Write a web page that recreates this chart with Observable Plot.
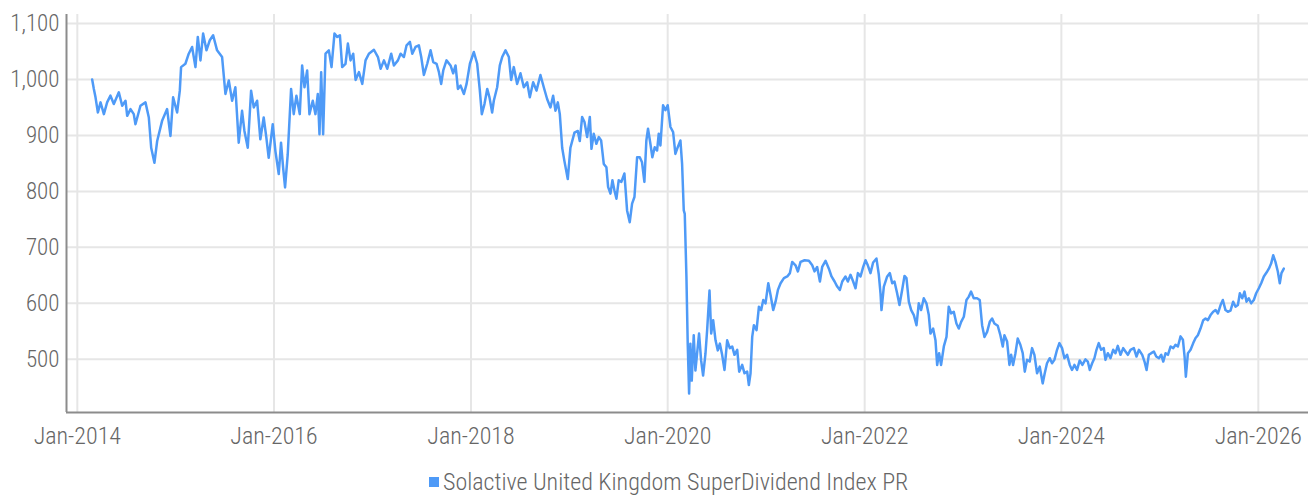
<!DOCTYPE html>
<html>
<head>
<meta charset="utf-8">
<script src="https://cdn.jsdelivr.net/npm/d3@7"></script>
<script src="https://cdn.jsdelivr.net/npm/@observablehq/plot@0.6"></script>
<style>
  html, body { margin: 0; padding: 0; background: #fff; }
  body { width: 1308px; height: 498px; overflow: hidden; font-family: 'Roboto Condensed', 'DejaVu Sans Condensed', sans-serif; font-weight: 300; }
  #legend { position: relative; height: 43px; }
  #legend .row { position: absolute; left: 429px; top: 15px; height: 24px; display: flex; align-items: center; font-size: 24px; color: #666; white-space: nowrap; }
  #legend .sw { width: 10px; height: 10px; background: #4e9af7; margin-right: 4px; }
  svg text { font-weight: 300; }
</style>
</head>
<body>
<div id="chart"></div>
<div id="legend"><div class="row"><div class="sw"></div><span id="legendText"></span></div></div>
<script>
const seriesName = "Solactive United Kingdom SuperDividend Index PR";

// Dates as decimal years
const years = [
2014.151,2014.168,2014.185,2014.209,2014.236,2014.270,2014.303,2014.337,2014.371,2014.422,2014.456,2014.490,2014.507,2014.541,2014.574,2014.591,2014.642,2014.693,2014.727,2014.751,2014.784,2014.812,2014.862,2014.913,2014.947,2014.974,
2015.015,2015.042,2015.055,2015.099,2015.133,2015.167,2015.201,2015.225,2015.252,2015.279,2015.313,2015.347,2015.381,2015.421,2015.472,2015.506,2015.540,2015.574,2015.607,2015.641,2015.675,2015.699,2015.733,2015.767,2015.794,2015.828,2015.861,2015.895,2015.922,2015.946,2015.987,
2016.014,2016.048,2016.071,2016.092,2016.112,2016.139,2016.173,2016.200,2016.227,2016.261,2016.285,2016.309,2016.336,2016.359,2016.393,2016.420,2016.444,2016.461,2016.478,2016.498,
2016.522,2016.556,2016.583,2016.613,2016.640,2016.668,2016.691,2016.725,2016.749,2016.776,2016.803,2016.827,2016.861,2016.895,2016.928,2016.962,
2017.013,2017.054,2017.081,2017.115,2017.149,2017.189,2017.216,2017.257,2017.284,2017.318,2017.345,2017.379,2017.403,2017.436,2017.470,2017.494,2017.521,2017.555,2017.589,2017.616,2017.650,2017.674,2017.697,2017.718,2017.751,2017.792,2017.819,2017.843,2017.867,2017.894,2017.928,2017.955,2017.989,
2018.029,2018.063,2018.090,2018.110,2018.137,2018.165,2018.188,2018.215,2018.232,2018.266,2018.293,2018.317,2018.351,2018.385,2018.408,2018.435,2018.469,2018.503,2018.537,2018.571,2018.598,2018.632,2018.666,2018.706,2018.740,2018.774,2018.808,2018.835,2018.859,2018.883,2018.903,2018.927,2018.950,2018.984,
2019.011,2019.052,2019.086,2019.106,2019.130,2019.154,2019.181,2019.208,2019.225,2019.248,2019.275,2019.299,2019.323,2019.350,2019.377,2019.394,2019.418,2019.438,2019.458,2019.479,2019.502,2019.529,2019.560,2019.587,2019.614,2019.638,2019.662,2019.689,2019.716,2019.739,2019.763,2019.783,2019.800,2019.824,2019.844,2019.868,2019.892,2019.909,2019.926,2019.953,2019.977,
2020.000,2020.028,2020.055,2020.078,2020.102,2020.129,2020.146,2020.163,2020.173,2020.190,2020.203,2020.217,2020.230,2020.244,2020.264,2020.281,2020.298,2020.318,2020.339,2020.359,2020.383,2020.400,2020.424,2020.441,2020.461,2020.485,2020.508,2020.529,
2020.552,2020.576,2020.603,2020.630,2020.654,2020.677,2020.705,2020.725,2020.755,2020.779,2020.806,2020.823,2020.840,2020.857,2020.874,2020.901,2020.925,2020.948,2020.969,2020.992,
2021.020,2021.043,2021.070,2021.094,2021.118,2021.145,2021.179,2021.213,2021.240,2021.263,2021.297,2021.321,2021.348,2021.389,2021.433,2021.467,2021.490,2021.517,2021.545,2021.568,2021.602,2021.636,2021.663,2021.694,2021.721,2021.748,2021.772,2021.805,2021.829,2021.856,2021.883,2021.907,2021.931,2021.958,2021.985,
2022.009,2022.032,2022.059,2022.086,2022.120,2022.144,2022.161,2022.171,2022.195,2022.229,2022.256,2022.280,2022.303,2022.330,2022.354,2022.381,2022.405,2022.425,2022.449,2022.473,2022.500,2022.527,2022.550,2022.574,2022.601,2022.628,2022.652,2022.669,2022.696,2022.720,2022.737,2022.757,2022.777,2022.805,2022.832,2022.855,2022.879,2022.906,2022.933,2022.957,2022.981,
2023.008,2023.035,2023.059,2023.082,2023.109,2023.143,2023.170,2023.194,2023.218,2023.245,2023.272,2023.296,2023.319,2023.353,2023.380,
2023.404,2023.421,2023.448,2023.472,2023.489,2023.509,2023.533,2023.556,2023.583,2023.607,2023.628,2023.651,2023.678,2023.702,2023.726,2023.753,2023.780,2023.810,2023.831,2023.854,2023.882,2023.905,2023.929,2023.956,2023.980,
2024.007,2024.031,2024.058,2024.085,2024.108,2024.132,2024.159,2024.186,2024.213,2024.244,2024.268,2024.288,2024.312,2024.335,2024.356,2024.379,2024.403,2024.430,2024.447,2024.471,2024.498,2024.525,2024.549,2024.572,2024.600,2024.627,2024.650,2024.674,2024.701,2024.735,2024.762,2024.786,2024.820,2024.843,2024.864,2024.887,2024.911,2024.938,2024.962,2024.989,
2025.013,2025.033,2025.057,2025.081,2025.108,2025.135,2025.158,2025.182,2025.209,2025.233,2025.250,2025.263,2025.284,2025.311,2025.338,2025.362,2025.385,2025.412,2025.440,2025.463,2025.487,2025.514,2025.541,2025.565,2025.589,2025.616,2025.639,2025.666,2025.690,2025.717,2025.744,2025.768,2025.792,2025.812,2025.836,2025.859,2025.880,2025.903,2025.927,2025.954,2025.978,
2026.005,2026.029,2026.056,2026.083,2026.107,2026.130,2026.151,2026.174,2026.198,2026.218,2026.235,2026.259
];

// Index levels
const values = [
1000,983,968,941,959,938,959,971,956,977,953,962,935,947,938,920,953,959,932,878,851,890,926,947,899,968,
941,980,1022,1028,1046,1058,1022,1076,1034,1082,1052,1070,1079,1052,1040,974,998,962,986,887,944,908,878,980,950,962,893,932,896,860,920,
872,831,887,843,807,866,983,938,971,938,1025,986,1016,938,962,938,974,902,1013,902,
1046,1052,1022,1082,1076,1079,1022,1028,1064,1034,1046,999,1013,992,1034,1046,
1053,1040,1019,1034,1019,1046,1025,1034,1046,1040,1061,1067,1046,1058,1061,1040,1008,1028,1052,1031,1028,1013,992,1016,1034,1025,1011,1025,983,989,974,992,1028,
1049,1028,980,938,956,983,968,941,962,986,1025,1040,1052,1040,999,1022,992,1011,986,995,968,995,980,1008,986,965,950,971,944,959,938,878,854,822,
878,905,908,890,933,924,897,933,876,903,885,897,891,849,843,808,796,820,802,787,820,817,832,766,745,778,790,861,861,852,817,891,912,885,861,879,873,903,882,954,945,
954,915,906,867,879,891,849,766,760,647,528,439,528,462,543,480,510,546,498,471,510,552,623,546,570,534,516,528,
508,481,534,520,523,508,517,478,490,475,478,454,475,540,561,552,594,588,606,600,
636,615,588,603,624,636,645,648,654,674,668,657,674,677,676,668,657,665,639,665,676,662,648,639,630,624,639,648,639,651,639,627,654,648,665,
677,668,654,673,680,651,618,588,630,648,654,636,639,618,597,624,649,645,603,588,579,561,600,588,609,600,579,546,555,534,490,511,490,523,540,594,582,585,564,555,567,
576,606,612,621,609,609,606,561,540,549,567,573,564,560,543,
523,543,532,490,508,490,511,537,526,511,478,499,496,520,508,475,487,457,475,493,502,493,499,517,529,
520,502,508,490,481,490,481,498,490,500,496,481,493,502,517,529,517,520,499,511,502,517,511,524,508,520,514,508,517,520,505,517,508,496,481,508,511,514,505,502,
508,496,511,508,523,520,526,523,541,535,505,469,511,517,529,538,543,555,570,573,570,579,585,588,582,597,606,588,585,587,603,594,597,618,609,621,603,609,600,606,618,
627,636,648,655,662,671,686,674,657,636,654,662
];

const yTicks = [500, 600, 700, 800, 900, 1000, 1100];
const xTickYears = [2014, 2016, 2018, 2020, 2022, 2024, 2026];
const xDomainYears = [2013.89, 2026.51];
const yDomain = [405, 1116];

function fromDecimalYear(t) {
  const y = Math.floor(t);
  const a = Date.UTC(y, 0, 1), b = Date.UTC(y + 1, 0, 1);
  return new Date(a + (t - y) * (b - a));
}

const data = years.map((t, i) => ({date: fromDecimalYear(t), value: values[i]}));
const xTicks = xTickYears.map(y => new Date(Date.UTC(y, 0, 1)));
const xDomain = xDomainYears.map(fromDecimalYear);

const fmtX = d3.utcFormat("%b-%Y");
const fmtY = d3.format(",");

const chart = Plot.plot({
  width: 1308,
  height: 455,
  marginLeft: 66,
  marginRight: 0,
  marginTop: 14,
  marginBottom: 43,
  style: {
    fontFamily: "'Roboto Condensed', 'DejaVu Sans Condensed', sans-serif",
    fontSize: "22px",
    color: "#666",
    background: "#fff"
  },
  x: {type: "utc", domain: xDomain, label: null},
  y: {domain: yDomain, label: null},
  marks: [
    Plot.gridX(xTicks, {stroke: "#e6e6e6", strokeOpacity: 1, strokeWidth: 2}),
    Plot.gridY(yTicks, {stroke: "#e6e6e6", strokeOpacity: 1, strokeWidth: 2}),
    Plot.axisX(xTicks, {tickFormat: fmtX, tickSize: 0, tickPadding: 14, fill: "#666", fontSize: 24, label: null}),
    Plot.axisY(yTicks, {tickFormat: fmtY, tickSize: 0, tickPadding: 7, fill: "#666", fontSize: 23, label: null}),
    Plot.ruleX([xDomain[0]], {stroke: "#8c8c8c", strokeWidth: 2}),
    Plot.ruleY([yDomain[0]], {stroke: "#8c8c8c", strokeWidth: 2}),
    Plot.line(data, {x: "date", y: "value", stroke: "#4e9af7", strokeWidth: 2.5, strokeLinejoin: "round"})
  ]
});

document.getElementById("chart").appendChild(chart);
document.getElementById("legendText").textContent = seriesName;
</script>
</body>
</html>
